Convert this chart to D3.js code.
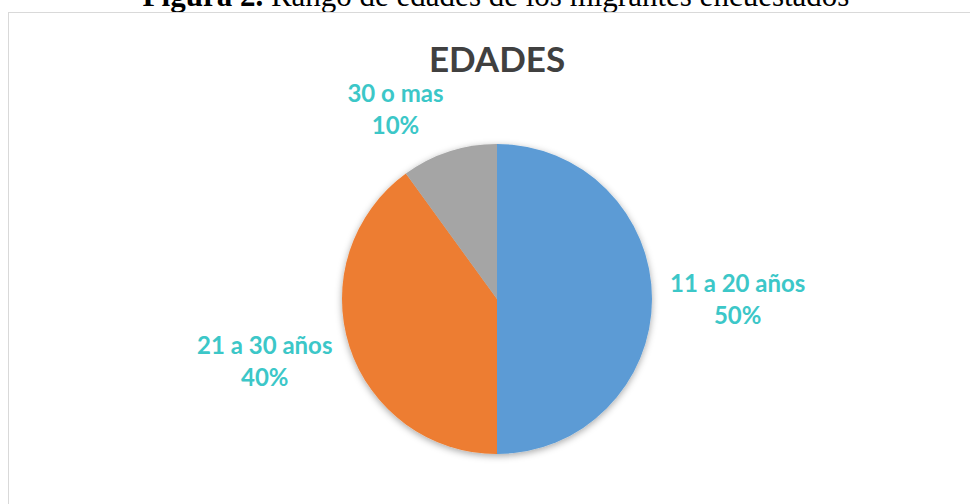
<!DOCTYPE html>
<html>
<head>
<meta charset="utf-8">
<script src="https://cdn.jsdelivr.net/npm/d3@7"></script>
<style>
  html, body { margin: 0; padding: 0; background: #fff; }
  svg { display: block; }
</style>
</head>
<body>
<div id="chart"></div>
<script>
const categories = ["11 a 20 años", "21 a 30 años", "30 o mas"];
const values = [50, 40, 10];
const percentLabels = ["50%", "40%", "10%"];
const colors = ["#5b9bd5", "#ed7d31", "#a5a5a5"];

const width = 970, height = 504;
const cx = 497, cy = 299, radius = 155;

const svg = d3.select("#chart")
  .append("svg")
  .attr("width", width)
  .attr("height", height);

const defs = svg.append("defs");
const shadow = defs.append("filter")
  .attr("id", "pieShadow")
  .attr("x", "-20%").attr("y", "-20%")
  .attr("width", "140%").attr("height", "140%");
shadow.append("feDropShadow")
  .attr("dx", 0).attr("dy", 2)
  .attr("stdDeviation", 3.5)
  .attr("flood-color", "#000")
  .attr("flood-opacity", 0.35);

// figure caption (clipped by the top of the picture, as in the source)
const caption = svg.append("text")
  .attr("x", 496)
  .attr("y", 6)
  .attr("text-anchor", "middle")
  .attr("font-family", "'Liberation Serif', 'Times New Roman', serif")
  .attr("font-size", 31)
  .attr("fill", "#000");
caption.append("tspan").attr("font-weight", "bold").text("Figura 2.");
caption.append("tspan").text(" Rango de edades de los migrantes encuestados");

// chart frame
svg.append("rect")
  .attr("x", 8.5).attr("y", 12.5)
  .attr("width", 980).attr("height", 520)
  .attr("fill", "#fff")
  .attr("stroke", "#d9d9d9")
  .attr("stroke-width", 1);

svg.append("text")
  .attr("x", 497)
  .attr("y", 72)
  .attr("text-anchor", "middle")
  .attr("font-family", "Lato, 'Open Sans', sans-serif")
  .attr("font-weight", "bold")
  .attr("font-size", 35)
  .attr("fill", "#404040")
  .text("EDADES");

const pie = d3.pie().sort(null).value(d => d);
const arcs = pie(values);
const arc = d3.arc().innerRadius(0).outerRadius(radius);

const g = svg.append("g").attr("transform", `translate(${cx},${cy})`);

g.append("g")
  .attr("filter", "url(#pieShadow)")
  .selectAll("path")
  .data(arcs)
  .join("path")
  .attr("d", arc)
  .attr("fill", (d, i) => colors[i]);

// data labels: best-fit outside each slice
const gap = 18, boxH = 54;
const labels = g.append("g")
  .selectAll("text")
  .data(arcs)
  .join("text")
  .attr("text-anchor", "middle")
  .attr("font-family", "Lato, 'Open Sans', sans-serif")
  .attr("font-weight", "bold")
  .attr("font-size", 24)
  .attr("fill", "#3cc7c8");

labels.append("tspan").attr("class", "l1").attr("x", 0).text((d, i) => categories[i]);
labels.append("tspan").attr("class", "l2").attr("x", 0).text((d, i) => percentLabels[i]);

labels.each(function(d) {
  const t = d3.select(this);
  const w = Math.max(
    t.select(".l1").node().getComputedTextLength(),
    t.select(".l2").node().getComputedTextLength()
  );
  const a = (d.startAngle + d.endAngle) / 2;
  const s = Math.sin(a), c = Math.cos(a);
  const ax = s * (radius + gap), ay = -c * (radius + gap);
  const bx = ax + Math.sign(s) * w / 2;
  const by = ay - c * boxH / 2;
  t.select(".l1").attr("x", bx).attr("y", by - 7);
  t.select(".l2").attr("x", bx).attr("y", by + 25);
});
</script>
</body>
</html>
